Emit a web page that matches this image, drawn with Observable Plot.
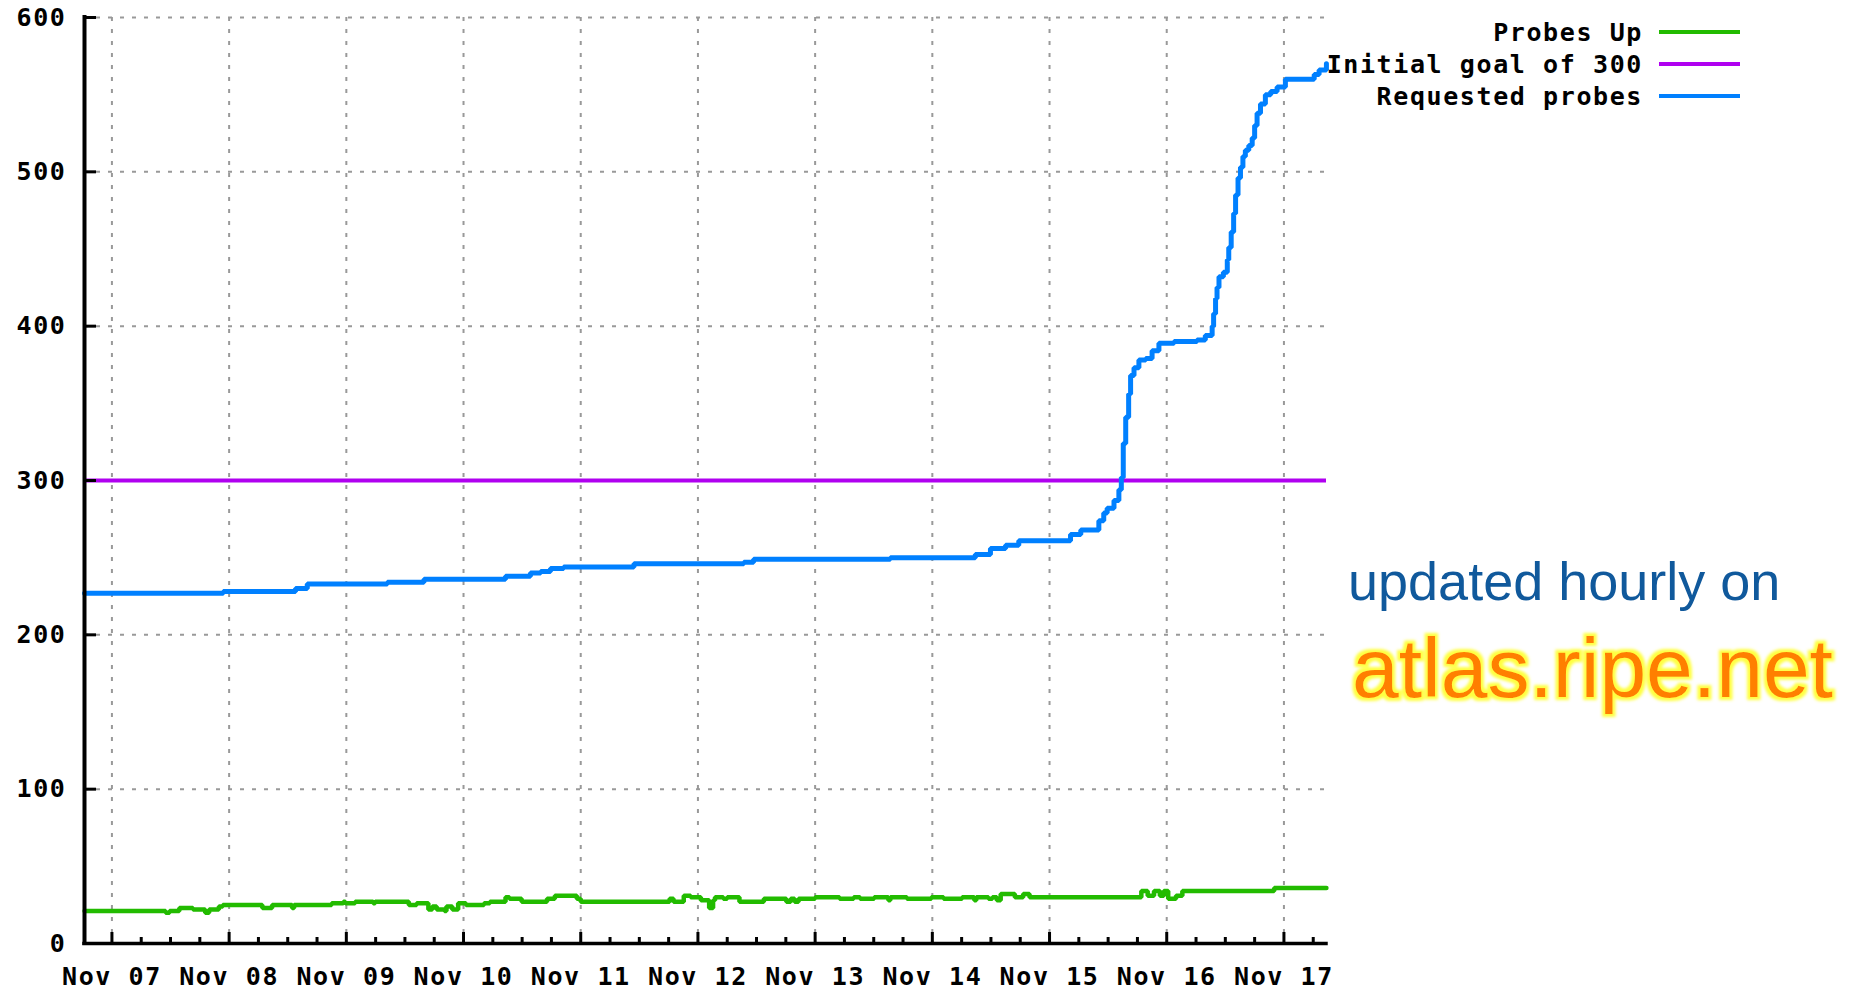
<!DOCTYPE html>
<html><head><meta charset="utf-8">
<script src="https://cdn.jsdelivr.net/npm/d3@7"></script>
<script src="https://cdn.jsdelivr.net/npm/@observablehq/plot@0.6"></script>
<style>
html,body{margin:0;padding:0;background:#fff;overflow:hidden}
#chart{position:relative;width:1859px;height:991px}
</style></head><body><div id="chart"></div>
<script>
// ---- data (hours since 2010-11-07 00:00 UTC) ----
const requestedHours = [-5.6, 22.8, 37.6, 40.0, 56.4, 63.9, 80.6, 85.7, 87.8, 89.8, 92.5, 106.9, 129.4, 131.4, 159.4, 176.8, 179.9, 183.0, 185.7, 196.3, 198.4, 202.1, 203.1, 203.8, 205.2, 206.2, 206.7, 207.1, 207.6, 208.2, 208.6, 209.3, 210.3, 211.7, 213.0, 214.4, 217.5, 222.2, 223.9, 225.3, 225.6, 226.0, 226.3, 226.7, 227.6, 228.4, 228.7, 229.2, 229.7, 230.1, 230.6, 231.1, 231.6, 232.1, 232.8, 233.5, 234.0, 234.5, 235.2, 236.2, 237.3, 238.6, 240.3, 245.5, 246.2, 247.2, 248.7];
const requestedValues = [227, 228, 230, 233, 234, 236, 238, 240, 241, 243, 244, 246, 247, 249, 250, 252, 256, 258, 261, 265, 268, 274, 279, 282, 287, 294, 302, 324, 341, 356, 368, 373, 378, 379, 384, 389, 390, 391, 394, 400, 408, 418, 425, 432, 435, 443, 451, 461, 473, 485, 496, 503, 510, 514, 517, 522, 530, 538, 544, 550, 552, 555, 560, 560, 563, 566, 570];

const upHours = [-5.6, 11.0, 11.8, 13.8, 16.6, 19.1, 19.9, 21.9, 22.7, 30.8,
  32.8, 36.9, 37.3, 45.0, 47.4, 47.8, 49.8, 53.5, 53.9, 60.8,
  62.4, 64.8, 65.6, 66.5, 68.1, 68.5, 69.7, 70.9, 72.5, 76.2,
  77.4, 80.6, 81.4, 83.9, 89.1, 90.7, 95.2, 96.0, 114.2, 115.0,
  117.1, 118.5, 120.6, 122.3, 123.1, 123.5, 125.2, 126.0, 128.5, 133.5,
  138.1, 139.0, 139.8, 140.6, 144.0, 149.0, 151.9, 153.2, 156.1, 159.0,
  159.4, 162.8, 167.8, 170.3, 174.1, 176.6, 177.0, 179.5, 180.3, 181.2,
  182.0, 184.9, 186.6, 187.9, 210.8, 212.1, 213.4, 214.6, 215.4, 216.3,
  217.9, 219.2, 238.0, 248.7];
const upValues = [21, 20, 21, 23, 22, 20, 22, 24, 25, 23,
  25, 23, 25, 26, 27, 26, 27, 26, 27, 25,
  26, 22, 24, 22, 21, 24, 22, 26, 25, 26,
  27, 30, 29, 27, 29, 31, 29, 27, 29, 27,
  31, 30, 28, 23, 28, 30, 29, 30, 27, 29,
  27, 29, 27, 29, 30, 29, 30, 29, 30, 28,
  30, 29, 30, 29, 30, 28, 30, 29, 30, 28,
  32, 30, 32, 30, 34, 31, 34, 31, 34, 29,
  31, 34, 36, 36];

const goalValues = [300];

const seriesNames = ["Probes Up", "Initial goal of 300", "Requested probes"];
const seriesColors = ["#22bb00", "#b000f0", "#0080ff"];

const yTickValues = [0, 100, 200, 300, 400, 500, 600];
const xTickDates = ["2010-11-07", "2010-11-08", "2010-11-09", "2010-11-10", "2010-11-11", "2010-11-12", "2010-11-13", "2010-11-14", "2010-11-15", "2010-11-16", "2010-11-17"];
const xDomainStrings = ["2010-11-06T18:23Z", "2010-11-17T08:43Z"];

const annotationLine1 = "updated hourly on";
const annotationLine2 = "atlas.ripe.net";

// ---- build ----
const base = Date.UTC(2010, 10, 7);
const toDate = h => new Date(base + h * 3600e3);
const requested = requestedHours.map((h, i) => ({t: toDate(h), v: requestedValues[i]}));
const up = upHours.map((h, i) => ({t: toDate(h), v: upValues[i]}));
const xDomain = xDomainStrings.map(s => new Date(s));
const dayTicks = xTickDates.map(s => new Date(s + "T00:00Z"));
const minorTicks = d3.utcHour.every(6).range(xDomain[0], xDomain[1]).filter(d => d.getUTCHours() !== 0);

const W = 1859, H = 991, mL = 84, mR = 533, mT = 17, mB = 48;
const frameW = W - mL - mR, frameH = H - mT - mB;
const gridStyle = {stroke: "#999999", strokeOpacity: 1, strokeWidth: 2, strokeDasharray: "4,8"};

const svg = Plot.plot({
  width: W, height: H,
  marginLeft: mL, marginRight: mR, marginTop: mT, marginBottom: mB,
  style: {fontFamily: "'DejaVu Sans Mono', monospace", fontSize: "25px", fontWeight: "bold", background: "white", color: "black", letterSpacing: "1.6px"},
  x: {type: "utc", domain: xDomain, label: null},
  y: {domain: [0, 600], label: null},
  marks: [
    Plot.gridX(dayTicks, gridStyle),
    Plot.gridY(yTickValues.filter(d => d > 0), gridStyle),
    Plot.ruleY(goalValues, {stroke: seriesColors[1], strokeWidth: 4}),
    Plot.line(up, {x: "t", y: "v", curve: "step-after", stroke: seriesColors[0], strokeWidth: 4.5, strokeLinejoin: "miter"}),
    Plot.line(requested, {x: "t", y: "v", curve: "step-after", stroke: seriesColors[2], strokeWidth: 5, strokeLinejoin: "miter"}),
    Plot.ruleX(dayTicks, {insetTop: frameH - 11, stroke: "black", strokeWidth: 3}),
    Plot.ruleX(minorTicks, {insetTop: frameH - 6, stroke: "black", strokeWidth: 3}),
    Plot.ruleY(yTickValues, {insetRight: frameW - 12, stroke: "black", strokeWidth: 3}),
    Plot.ruleX([xDomain[0]], {stroke: "black", strokeWidth: 4, strokeLinecap: "square"}),
    Plot.ruleY([0], {stroke: "black", strokeWidth: 3.5, strokeLinecap: "square"}),
    Plot.axisY(yTickValues, {tickSize: 0, tickPadding: 18}),
    Plot.axisX(dayTicks, {tickSize: 0, tickPadding: 24, tickFormat: d3.utcFormat("%b %d")})
  ]
});
document.getElementById("chart").appendChild(svg);

const s = d3.select(svg);
const defs = s.append("defs");
const f = defs.append("filter").attr("id", "glow").attr("x", "-5%").attr("y", "-30%").attr("width", "110%").attr("height", "160%");
f.append("feMorphology").attr("in", "SourceAlpha").attr("operator", "dilate").attr("radius", 3).attr("result", "d");
f.append("feGaussianBlur").attr("in", "d").attr("stdDeviation", 1.6).attr("result", "b");
f.append("feFlood").attr("flood-color", "#ffff40").attr("result", "c");
f.append("feComposite").attr("in", "c").attr("in2", "b").attr("operator", "in").attr("result", "g");
const m = f.append("feMerge");
m.append("feMergeNode").attr("in", "g");
m.append("feMergeNode").attr("in", "SourceGraphic");

// legend
const legendRows = [32, 64, 96];
const lg = s.append("g");
seriesNames.forEach((name, i) => {
  lg.append("text").attr("x", 1643).attr("y", legendRows[i] + 9).attr("text-anchor", "end")
    .attr("fill", "black").text(name);
  lg.append("line").attr("x1", 1659).attr("x2", 1740).attr("y1", legendRows[i]).attr("y2", legendRows[i])
    .attr("stroke", seriesColors[i]).attr("stroke-width", 4);
});

// annotation
s.append("text").attr("x", 1348).attr("y", 600).attr("text-anchor", "start")
  .style("font-family", "'Liberation Sans', Arial, sans-serif").style("font-size", "54px")
  .style("font-weight", "300").style("letter-spacing", "0px")
  .attr("fill", "#10599c").text(annotationLine1);
s.append("text").attr("x", 1352).attr("y", 697).attr("text-anchor", "start")
  .style("font-family", "'Liberation Sans', Arial, sans-serif").style("font-size", "84px")
  .style("font-weight", "normal").style("letter-spacing", "0px")
  .attr("fill", "#ff7f00").attr("filter", "url(#glow)").text(annotationLine2);
</script></body></html>
